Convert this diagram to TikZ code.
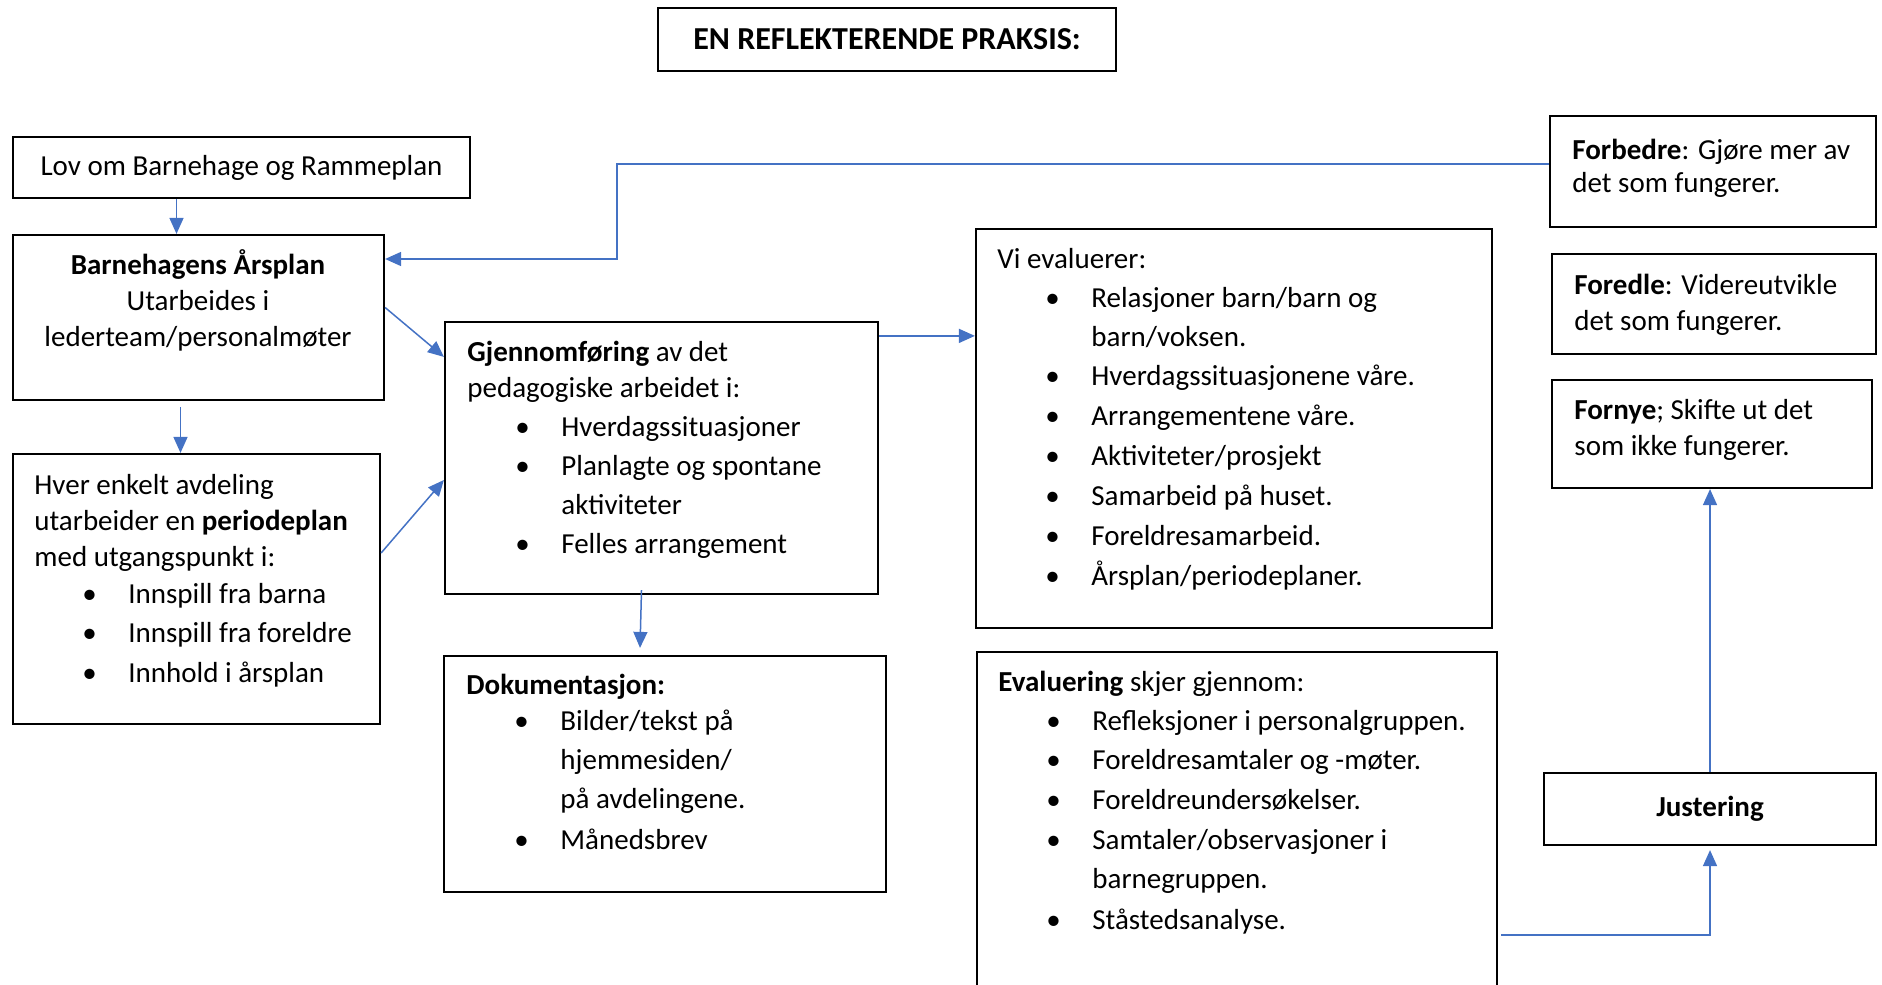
\documentclass[tikz,border=0pt]{standalone}
\usepackage{fontspec}
\setmainfont{Carlito}
\usetikzlibrary{arrows.meta,positioning,calc}
\definecolor{wordblue}{HTML}{4472C4}
\tikzset{
  boks/.style={draw=black, line width=1.1pt, rectangle, inner sep=0pt},
  conn/.style={draw=wordblue, line width=0.75pt, -{Triangle[length=8pt,width=7pt]}},
  tekst/.style={anchor=base west, align=left, inner sep=0pt, font=\fontsize{14.5}{19.5}\selectfont},
}
\newcommand{\punkt}[1]{\hspace*{24pt}\makebox[23pt][l]{\textbullet}#1}
\newcommand{\fortsett}[1]{\hspace*{47pt}#1}

\begin{document}
\begin{tikzpicture}[x=0.5pt, y=-0.5pt]
\clip (0,0) rectangle (1882,984);

% boxes
\node[boks, minimum width=229pt, minimum height=31.5pt, font=\fontsize{16}{19.5}\selectfont\bfseries] (tittel) at (887,39.5) {EN REFLEKTERENDE PRAKSIS:};
\node[boks, minimum width=228.5pt, minimum height=30.5pt, font=\fontsize{14.5}{19.5}\selectfont] (lov) at (241.5,167.5) {Lov om Barnehage og Rammeplan};
\node[boks, minimum width=185.5pt, minimum height=82.5pt] (aarsplan) at (198.5,317.5) {};
\node[boks, minimum width=183.5pt, minimum height=135pt] (avdeling) at (196.5,589) {};
\node[boks, minimum width=216.5pt, minimum height=136pt] (gjennomf) at (661.5,458) {};
\node[boks, minimum width=221pt, minimum height=118pt] (dok) at (665,774) {};
\node[boks, minimum width=258pt, minimum height=199.5pt] (vieval) at (1234,428.5) {};
\node[boks, minimum width=260pt, minimum height=179pt] (evalgj) at (1237,831) {};
\node[boks, minimum width=163pt, minimum height=55.5pt] (forbedre) at (1713,171.5) {};
\node[boks, minimum width=162pt, minimum height=50pt] (foredle) at (1714,304) {};
\node[boks, minimum width=160pt, minimum height=54pt] (fornye) at (1712,434) {};
\node[boks, minimum width=166pt, minimum height=36pt, font=\fontsize{14.5}{19.5}\selectfont\bfseries] (justering) at (1710,809) {Justering};

% texts (anchored at the baseline of the last line)
\node[tekst, anchor=base, align=center] (aarsplantxt) at (198,346) {\textbf{Barnehagens Årsplan}\\[-1.5pt] Utarbeides i\\[-1.5pt] lederteam/personalmøter};
\node[tekst] (avdelingtxt) at (34,682) {Hver enkelt avdeling\\[-1.5pt]
  utarbeider en \textbf{periodeplan}\\[-1.5pt]
  med utgangspunkt i:\\[-1pt]
  \punkt{Innspill fra barna}\\
  \punkt{Innspill fra foreldre}\\[0.5pt]
  \punkt{Innhold i årsplan}};
\node[tekst] (gjennomftxt) at (467,553) {\textbf{Gjennomføring} av det\\[-1.5pt]
  pedagogiske arbeidet i:\\
  \punkt{Hverdagssituasjoner}\\
  \punkt{Planlagte og spontane}\\
  \fortsett{aktiviteter}\\
  \punkt{Felles arrangement}};
\node[tekst] (doktxt) at (466,849) {\textbf{Dokumentasjon:}\\[-1.5pt]
  \punkt{Bilder/tekst på}\\
  \fortsett{hjemmesiden/}\\
  \fortsett{på avdelingene.}\\[1pt]
  \punkt{Månedsbrev}};
\node[tekst] (vievaltxt) at (997,585) {Vi evaluerer:\\
  \punkt{Relasjoner barn/barn og}\\
  \fortsett{barn/voksen.}\\
  \punkt{Hverdagssituasjonene våre.}\\[0.5pt]
  \punkt{Arrangementene våre.}\\[0.5pt]
  \punkt{Aktiviteter/prosjekt}\\[0.5pt]
  \punkt{Samarbeid på huset.}\\[0.5pt]
  \punkt{Foreldresamarbeid.}\\[0.5pt]
  \punkt{Årsplan/periodeplaner.}};
\node[tekst] (evalgjtxt) at (998,929) {\textbf{Evaluering} skjer gjennom:\\
  \punkt{Refleksjoner i personalgruppen.}\\
  \punkt{Foreldresamtaler og -møter.}\\[0.5pt]
  \punkt{Foreldreundersøkelser.}\\[0.5pt]
  \punkt{Samtaler/observasjoner i}\\
  \fortsett{barnegruppen.}\\[1pt]
  \punkt{Ståstedsanalyse.}};
\node[tekst] (forbedretxt) at (1572,193) {\textbf{Forbedre}: Gjøre mer av\\[-2.5pt] det som fungerer.};
\node[tekst] (foredletxt) at (1574,330) {\textbf{Foredle}: Videreutvikle\\[-1.5pt] det som fungerer.};
\node[tekst] (fornyetxt) at (1574,455) {\textbf{Fornye}; Skifte ut det\\[-1.5pt] som ikke fungerer.};

% connectors
\coordinate (knekk) at (617,164);
\draw[conn] ([xshift=-11pt]aarsplan.north |- lov.south) -- ([xshift=-11pt]aarsplan.north);
\draw[conn] ([xshift=-9pt,yshift=-3pt]aarsplan.south) -- ([xshift=-9pt]aarsplan.south |- avdeling.north);
\draw[conn] ([yshift=5pt]aarsplan.east) -- ([yshift=-18pt]gjennomf.north west);
\draw[conn] ([yshift=18pt]avdeling.east) -- ([yshift=-11pt]gjennomf.west);
\draw[conn] ([xshift=-10pt,yshift=2.5pt]gjennomf.south) -- ([xshift=-12.5pt,yshift=3.5pt]dok.north);
\draw[conn] ([yshift=-7.5pt]gjennomf.north east) -- ([yshift=-7.5pt]gjennomf.north east -| vieval.west);
\draw[conn] ([yshift=3.75pt]forbedre.west) -- (knekk) |- ([yshift=29.25pt]aarsplan.east);
\draw[conn] ([xshift=1.5pt,yshift=-52pt]evalgj.east) -| ([yshift=-2pt]justering.south);
\draw[conn] (justering.north) -- (justering.north |- fornye.south);
\end{tikzpicture}
\end{document}
